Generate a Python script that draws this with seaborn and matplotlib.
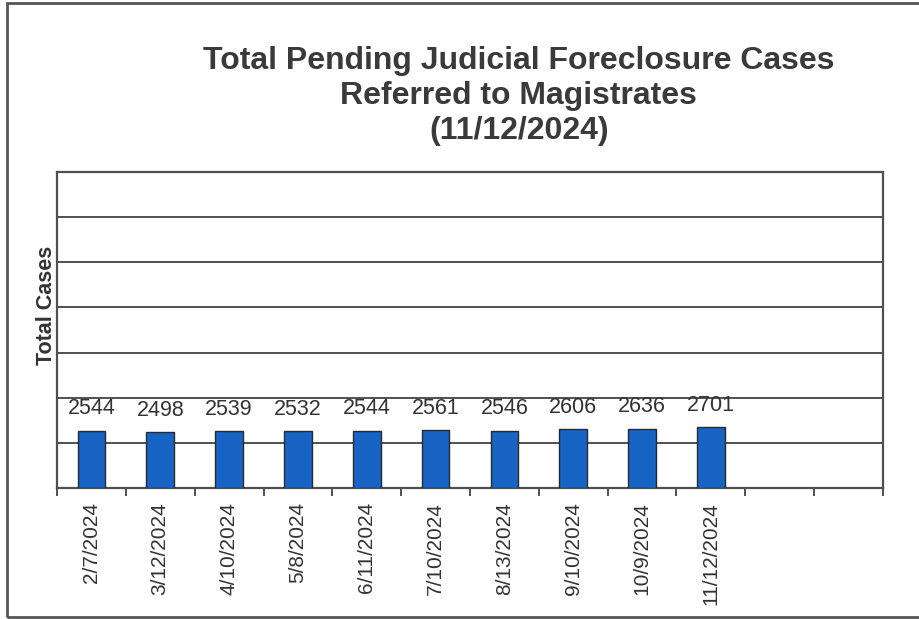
import matplotlib
matplotlib.use("Agg")
import matplotlib.pyplot as plt
from matplotlib.patches import Rectangle
from matplotlib.ticker import MultipleLocator, FixedLocator
import seaborn as sns
import pandas as pd

dates = ["2/7/2024", "3/12/2024", "4/10/2024", "5/8/2024", "6/11/2024",
         "7/10/2024", "8/13/2024", "9/10/2024", "10/9/2024", "11/12/2024"]
cases = [2544, 2498, 2539, 2532, 2544, 2561, 2546, 2606, 2636, 2701]
n_slots = 12

title = "Total Pending Judicial Foreclosure Cases\nReferred to Magistrates\n(11/12/2024)"
ylabel = "Total Cases"

sns.set_theme(style="white")
plt.rcParams['font.family'] = ['Liberation Sans', 'DejaVu Sans']

df = pd.DataFrame({"date": dates, "cases": cases})

fig = plt.figure(figsize=(9.2, 6.19), dpi=100)
ax = fig.add_axes([57/920, 1-488/619, 826/920, 316/619])

line_col = "#505050"
text_col = "#333333"

sns.barplot(data=df, x="date", y="cases", order=dates, color="#1864C4",
            saturation=1, width=0.4, edgecolor="#2a2a2a", linewidth=1.0, ax=ax, zorder=3)

ax.set_xlim(-0.5, n_slots - 0.5)
ax.set_ylim(0, 14000)
ax.yaxis.set_major_locator(MultipleLocator(2000))
ax.grid(axis="y", color=line_col, linewidth=1.4, zorder=0)
ax.set_axisbelow(True)
ax.set_yticklabels([])
ax.tick_params(axis="y", length=0)

ax.xaxis.set_minor_locator(FixedLocator([i - 0.5 for i in range(n_slots + 1)]))
ax.tick_params(axis="x", which="major", length=0, pad=10, labelsize=15, labelcolor=text_col)
ax.tick_params(axis="x", which="minor", length=6, width=1.4, color=line_col, direction="out")
ax.xaxis.set_tick_params(which="minor", bottom=True)
plt.setp(ax.get_xticklabels(), rotation=90, va="top", ha="center")
ax.set_xlabel("")
ax.set_ylabel("")

for s in ax.spines.values():
    s.set_visible(True)
    s.set_color(line_col)
    s.set_linewidth(1.6)

for c in ax.containers:
    ax.bar_label(c, labels=[str(v) for v in cases], padding=8, fontsize=15.5, color=text_col)

fig.text(0.564, 1-96/619, title, ha="center", va="center", fontsize=23,
         fontweight="bold", color="#3a3a3a", linespacing=1.2)
fig.text(47/920, 1-305/619, ylabel, ha="center", va="center", rotation=90,
         fontsize=15.5, fontweight="bold", color=text_col)

fig.patches.append(Rectangle((7/920, 2/619), 1.1, 614/619, transform=fig.transFigure,
                             fill=False, edgecolor="#555555", linewidth=2.0, figure=fig))

fig.savefig("out.png", dpi=100)
